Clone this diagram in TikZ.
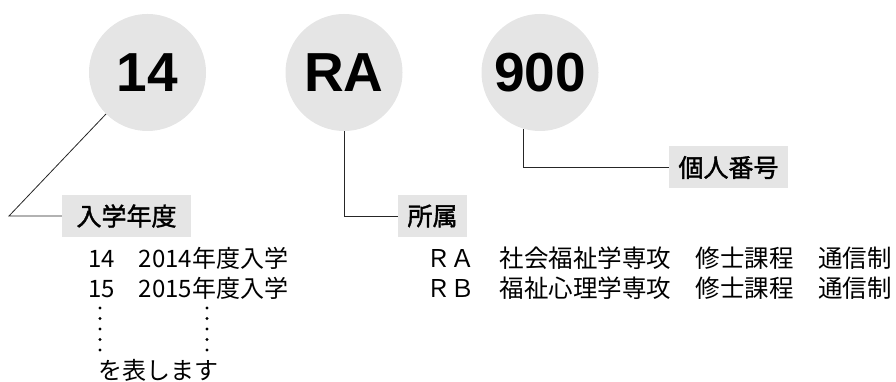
\documentclass[tikz,border=0pt]{standalone}
\usepackage{fontspec}
\setmainfont{Noto Sans CJK JP}
\newfontfamily\codefont{Liberation Sans}
\newfontfamily\headfont[FakeBold=1.6]{Noto Sans CJK JP}
\usepackage{tikz}
\usetikzlibrary{positioning}

\begin{document}
\begin{tikzpicture}[
    x=1pt, y=1pt,
    code/.style={circle, fill=gray!20, minimum size=117pt, inner sep=0pt, font=\codefont\bfseries\fontsize{55}{55}\selectfont},
    heading/.style={rectangle, fill=gray!20, minimum height=42pt, inner xsep=9.5pt, font=\headfont\fontsize{25}{25}\selectfont},
    item/.style={anchor=west, inner sep=0pt, align=left, font=\fontsize{24}{30}\selectfont},
    link/.style={draw, line width=0.8pt, black!85}
]
\useasboundingbox (0,0) rectangle (896,382);

\node[code] (year) at (147.5,309.5) {14};
\node[code] (dept) at (344,309.5) {RA};
\node[code] (num) at (540,309.5) {900};

\node[heading, minimum width=129pt] (yearlabel) at (126.5,166) {入学年度};
\node[heading] (deptlabel) at (432.5,166) {所属};
\node[heading] (numlabel) at (728.5,214.5) {個人番号};

\coordinate (yearbend) at (9,166);
\draw[link] (year.south west) -- (yearbend) -- (yearlabel.west);
\draw[link] (dept.south) |- (deptlabel.west);
\draw[link] (num.254) |- (numlabel.west);

\node[item] (yearlist) at (88,109) {14　2014年度入学\\15　2015年度入学};
\node[item, font=\fontsize{24.5}{30}\selectfont] (deptlist) at (426,109) {ＲＡ　社会福祉学専攻　修士課程　通信制\\ＲＢ　福祉心理学専攻　修士課程　通信制};
\foreach \i in {0,...,4} {
    \fill (100,74-\i*10.5) circle (1.6);
    \fill (207,74-\i*10.5) circle (1.6);
}
\node[item] (yearnote) at (98,12) {を表します};

\end{tikzpicture}
\end{document}
